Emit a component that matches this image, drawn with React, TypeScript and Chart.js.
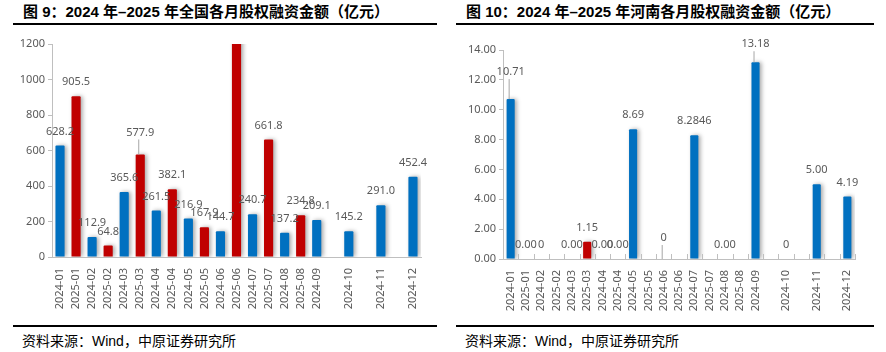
import React, { useEffect, useRef } from "react";
import { Chart, registerables } from "chart.js";
Chart.register(...registerables);

const categories = [
  "2024-01", "2025-01", "2024-02", "2025-02", "2024-03", "2025-03",
  "2024-04", "2025-04", "2024-05", "2025-05", "2024-06", "2025-06",
  "2024-07", "2025-07", "2024-08", "2025-08", "2024-09", "",
  "2024-10", "", "2024-11", "", "2024-12",
];

const nationalValues = [
  628.2, 905.5, 112.9, 64.8, 365.6, 577.9, 261.5, 382.1, 216.9, 167.9,
  144.7, 1350, 240.7, 661.8, 137.2, 234.8, 209.1, null, 145.2, null,
  291.0, null, 452.4,
];
const nationalTexts = [
  "628.2", "905.5", "112.9", "64.8", "365.6", "577.9", "261.5", "382.1",
  "216.9", "167.9", "144.7", null, "240.7", "661.8", "137.2", "234.8",
  "209.1", null, "145.2", null, "291.0", null, "452.4",
];

const henanValues = [
  10.71, 0, 0, 0, 0, 1.15, 0, 0, 8.69, 0, 0, 0, 8.2846, 0, 0, 0, 13.18,
  null, 0, null, 5.0, null, 4.19,
];
const henanTexts = [
  "10.71", "0.00", "0", null, "0.00", "1.15", "0.00", "0.00", "8.69", null,
  "0", null, "8.2846", null, "0.00", null, "13.18", null, "0", null, "5.00",
  null, "4.19",
];

// label styling: extra lift (px) for labels drawn with a leader line
const nationalLift: Record<number, number> = { 5: 8 };
const henanLift: Record<number, number> = { 0: 13, 10: 7, 16: 4 };

const BLUE = "#0070C0";
const RED = "#C00000";
const GRAY_TEXT = "#595959";
const AXIS = "#BFBFBF";
const NUM_FONT = "'Noto Sans', 'Open Sans', sans-serif";

type Props = {
  values: (number | null)[];
  texts: (string | null)[];
  lifts: Record<number, number>;
  yMax: number;
  yStep: number;
  decimals: number;
  yAxisWidth: number;
  xAxisHeight: number;
  padTop: number;
  padRight: number;
  innerTicks: boolean;
  barPct: number;
  width: number;
  height: number;
};

function BarChart(p: Props) {
  const ref = useRef<HTMLCanvasElement | null>(null);
  useEffect(() => {
    if (!ref.current) return;
    const shadow = {
      id: "shadow",
      beforeDatasetDraw(chart: any) {
        const c = chart.ctx;
        c.save();
        c.shadowColor = "rgba(0,0,0,0.35)";
        c.shadowBlur = 4;
        c.shadowOffsetX = 2;
        c.shadowOffsetY = 0;
      },
      afterDatasetDraw(chart: any) {
        chart.ctx.restore();
      },
    };
    const labelsPlugin = {
      id: "valueLabels",
      afterDraw(chart: any) {
        const c = chart.ctx;
        const meta = chart.getDatasetMeta(0);
        const base = chart.scales.y.getPixelForValue(0);
        c.save();
        c.font = `11px ${NUM_FONT}`;
        c.fillStyle = GRAY_TEXT;
        c.textAlign = "center";
        c.textBaseline = "middle";
        meta.data.forEach((el: any, i: number) => {
          const t = p.texts[i];
          if (t == null || p.values[i] == null) return;
          const top = Math.min(el.y, base);
          const lift = p.lifts[i] || 0;
          const ly = top - 14 - lift;
          c.fillText(t, el.x, ly);
          if (lift > 0) {
            c.strokeStyle = "#A6A6A6";
            c.lineWidth = 1;
            c.beginPath();
            c.moveTo(el.x - 1.5, ly + 7);
            c.lineTo(el.x - 1.5, top);
            c.stroke();
          }
        });
        if (p.innerTicks) {
          const xs = chart.scales.x;
          const n = p.values.length;
          const step = (xs.right - xs.left) / n;
          c.strokeStyle = AXIS;
          c.lineWidth = 1;
          c.beginPath();
          for (let i = 1; i <= n; i++) {
            const x = Math.round(xs.left + i * step) + 0.5;
            c.moveTo(x, base);
            c.lineTo(x, base - 5);
          }
          c.stroke();
        }
        c.restore();
      },
    };
    const chart = new Chart(ref.current, {
      type: "bar",
      data: {
        labels: categories,
        datasets: [
          {
            data: p.values,
            backgroundColor: categories.map((c) =>
              c.startsWith("2025") ? RED : BLUE
            ),
            barPercentage: p.barPct,
            categoryPercentage: 1,
            borderRadius: 1,
          },
        ],
      },
      options: {
        animation: false,
        responsive: false,
        maintainAspectRatio: false,
        layout: { padding: { top: p.padTop, right: p.padRight, left: 0, bottom: 0 } },
        plugins: { legend: { display: false }, tooltip: { enabled: false } },
        scales: {
          x: {
            offset: true,
            grid: { display: false },
            border: { color: AXIS, width: 1 },
            ticks: {
              autoSkip: false,
              maxRotation: 90,
              minRotation: 90,
              color: GRAY_TEXT,
              font: { size: 11, family: NUM_FONT },
              padding: 3,
            },
            afterFit(scale: any) {
              scale.height = p.xAxisHeight;
            },
          },
          y: {
            min: 0,
            max: p.yMax,
            grid: { drawOnChartArea: false, tickLength: 4, color: AXIS },
            border: { color: AXIS, width: 1 },
            ticks: {
              stepSize: p.yStep,
              color: GRAY_TEXT,
              font: { size: 11, family: NUM_FONT },
              padding: 3,
              callback: (v: any) => Number(v).toFixed(p.decimals),
            },
            afterFit(scale: any) {
              scale.width = p.yAxisWidth;
            },
          },
        },
      },
      plugins: [shadow, labelsPlugin],
    });
    return () => chart.destroy();
  }, []);
  return (
    <canvas
      ref={ref}
      width={p.width}
      height={p.height}
      style={{ width: p.width, height: p.height, display: "block" }}
    />
  );
}

const titleStyle: React.CSSProperties = {
  position: "absolute",
  top: 1,
  height: 22,
  lineHeight: "22px",
  fontSize: 15,
  fontWeight: "bold",
  color: "#000",
  whiteSpace: "nowrap",
  fontFamily: "'Liberation Sans', 'Noto Sans CJK SC', sans-serif",
};
const sourceStyle: React.CSSProperties = {
  position: "absolute",
  top: 331,
  height: 20,
  lineHeight: "20px",
  fontSize: 14,
  color: "#000",
  whiteSpace: "nowrap",
  fontFamily: "'Liberation Sans', 'Noto Sans CJK SC', sans-serif",
};

export default function App() {
  return (
    <div
      style={{
        position: "fixed",
        left: 0,
        top: 0,
        width: 886,
        height: 352,
        background: "#fff",
        overflow: "hidden",
      }}
    >
      <div style={{ ...titleStyle, left: 23 }}>
        图 9：2024 年–2025 年全国各月股权融资金额（亿元）
      </div>
      <div style={{ ...titleStyle, left: 466 }}>
        图 10：2024 年–2025 年河南各月股权融资金额（亿元）
      </div>
      <div style={{ position: "absolute", left: 13, top: 23, width: 424, height: 2, background: "#000" }} />
      <div style={{ position: "absolute", left: 456, top: 23, width: 418, height: 2, background: "#000" }} />

      <div style={{ position: "absolute", left: 13, top: 30 }}>
        <BarChart
          values={nationalValues}
          texts={nationalTexts}
          lifts={nationalLift}
          yMax={1200}
          yStep={200}
          decimals={0}
          yAxisWidth={39}
          xAxisHeight={63}
          padTop={14}
          padRight={16}
          innerTicks={false}
          barPct={0.57}
          width={424}
          height={290}
        />
      </div>
      <div style={{ position: "absolute", left: 456, top: 30 }}>
        <BarChart
          values={henanValues}
          texts={henanTexts}
          lifts={henanLift}
          yMax={14}
          yStep={2}
          decimals={2}
          yAxisWidth={47}
          xAxisHeight={61}
          padTop={20}
          padRight={19}
          innerTicks={true}
          barPct={0.53}
          width={418}
          height={290}
        />
      </div>

      <div style={{ position: "absolute", left: 13, top: 325, width: 424, height: 2, background: "#000" }} />
      <div style={{ position: "absolute", left: 456, top: 325, width: 418, height: 2, background: "#000" }} />
      <div style={{ ...sourceStyle, left: 22 }}>资料来源：Wind，中原证券研究所</div>
      <div style={{ ...sourceStyle, left: 465 }}>资料来源：Wind，中原证券研究所</div>
    </div>
  );
}
